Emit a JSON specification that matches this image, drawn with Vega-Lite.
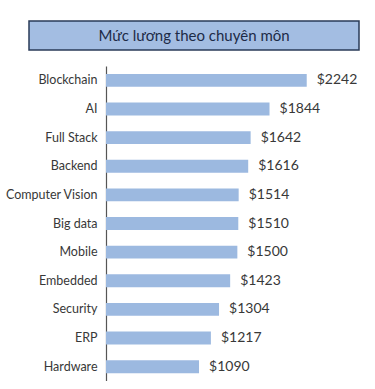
{
  "$schema": "https://vega.github.io/schema/vega-lite/v6.json",
  "padding": {"top": 20, "left": 4, "right": 0, "bottom": 0},
  "background": "white",
  "spacing": 16,
  "center": true,
  "bounds": "flush",
  "config": {"font": "Lato", "view": {"stroke": null}},
  "vconcat": [
    {
      "width": 330,
      "height": 29,
      "view": {"fill": "#a3bde2", "stroke": "#2a3b58", "strokeWidth": 1.5},
      "data": {"values": [{"t": "Mức lương theo chuyên môn"}]},
      "mark": {"type": "text", "fontSize": 15, "color": "#1d2b47", "font": "Lato"},
      "encoding": {
        "text": {"field": "t"}
      }
    },
    {
      "width": 176,
      "height": 315,
      "data": {"values": [
        {"k": "Blockchain", "v": 2242},
        {"k": "AI", "v": 1844},
        {"k": "Full Stack", "v": 1642},
        {"k": "Backend", "v": 1616},
        {"k": "Computer Vision", "v": 1514},
        {"k": "Big data", "v": 1510},
        {"k": "Mobile", "v": 1500},
        {"k": "Embedded", "v": 1423},
        {"k": "Security", "v": 1304},
        {"k": "ERP", "v": 1217},
        {"k": "Hardware", "v": 1090}
      ]},
      "encoding": {
        "y": {"field": "k", "type": "nominal", "sort": null,
          "scale": {"paddingInner": 0.55, "paddingOuter": 0.275},
          "axis": {"title": null, "ticks": false, "domainColor": "#555", "domainWidth": 1.2, "labelFontSize": 12.5, "labelColor": "#383838", "labelPadding": 9, "labelFont": "Lato"}},
        "x": {"field": "v", "type": "quantitative", "scale": {"domain": [95, 1977.5], "zero": false, "nice": false}, "axis": null}
      },
      "layer": [
        {"mark": {"type": "bar", "color": "#9cb9e0"}, "encoding": {"x2": {"datum": 95}}},
        {"mark": {"type": "text", "align": "left", "dx": 10, "fontSize": 14, "color": "#383838", "font": "Lato"}, "encoding": {"text": {"field": "v", "format": "$d"}}}
      ]
    }
  ]
}
